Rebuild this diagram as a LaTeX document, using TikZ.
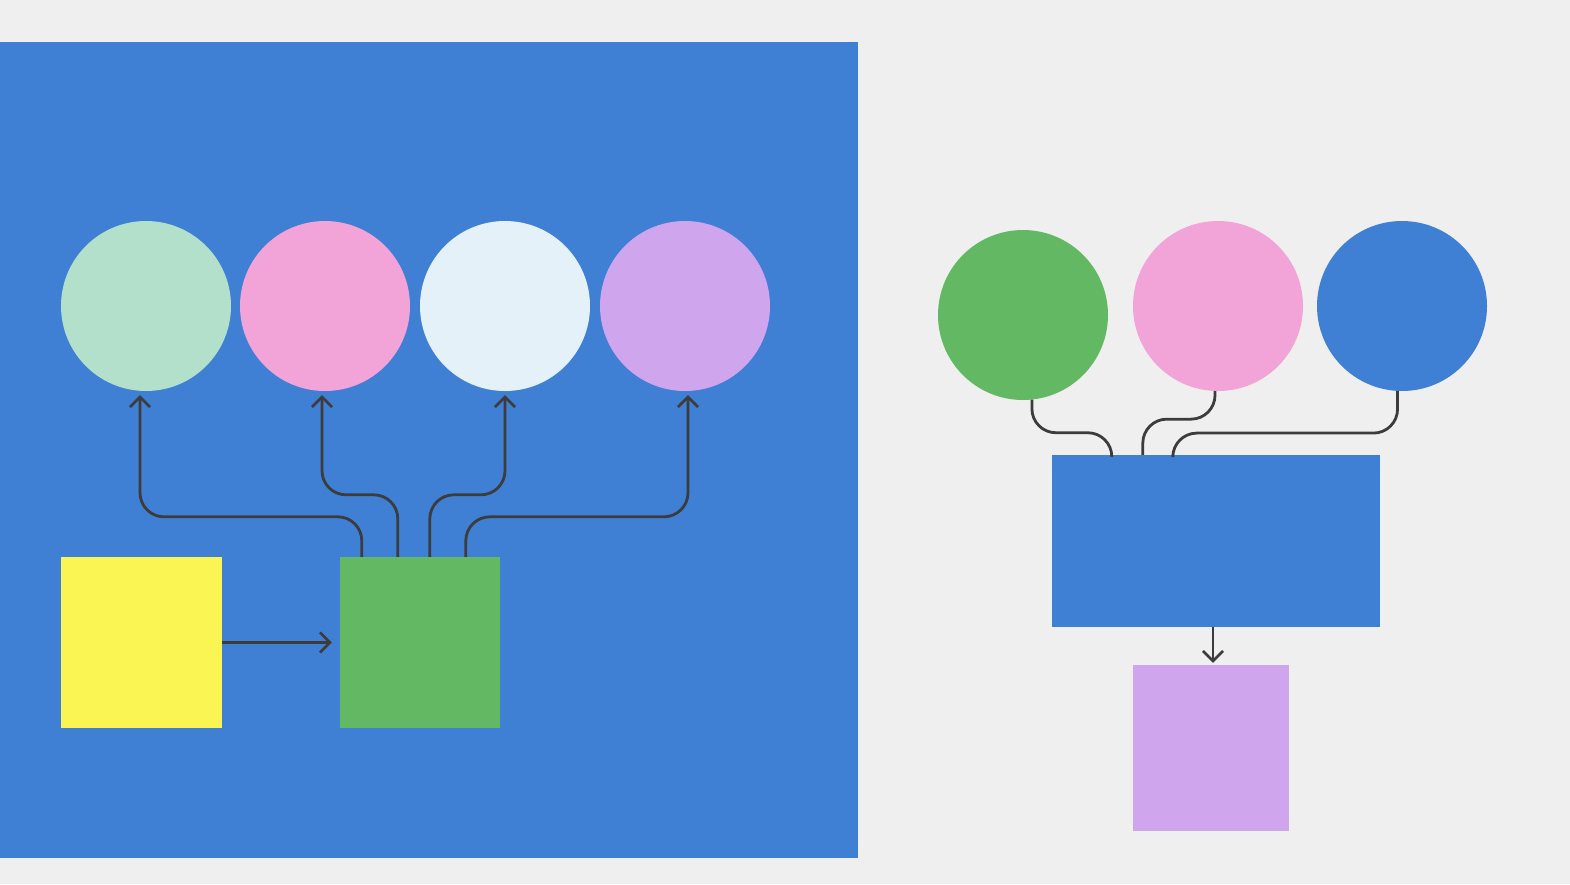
\documentclass[tikz,border=0pt]{standalone}
\usetikzlibrary{arrows.meta,calc}
\definecolor{paper}{HTML}{EFEFEF}
\definecolor{bblue}{HTML}{3F7FD4}
\definecolor{mint}{HTML}{B3E0CB}
\definecolor{ppink}{HTML}{F2A3D7}
\definecolor{pale}{HTML}{E4F1F8}
\definecolor{lav}{HTML}{CFA6EE}
\definecolor{ggreen}{HTML}{63B963}
\definecolor{yyellow}{HTML}{FAF552}
\definecolor{ink}{HTML}{3C3C3C}
\tikzset{
  ball/.style={circle, minimum size=170pt, inner sep=0pt, draw=none},
  box/.style={rectangle, inner sep=0pt, draw=none},
  conn/.style={draw=ink, line width=2.8pt, rounded corners=24pt},
  arr/.style={conn, -{Straight Barb[length=10pt,width=20pt,line width=2.6pt]}}
}
\begin{document}
\begin{tikzpicture}[x=1pt,y=-1pt]
\fill[paper] (0,0) rectangle (1570,884);
\useasboundingbox (0,0) rectangle (1570,884);
\fill[bblue] (0,42) rectangle (858,858);
% left circles
\node[ball, fill=mint]  (c1) at (146,306) {};
\node[ball, fill=ppink] (c2) at (325,306) {};
\node[ball, fill=pale]  (c3) at (505,306) {};
\node[ball, fill=lav]   (c4) at (685,306) {};
% left boxes
\node[box, fill=yyellow, minimum width=161pt, minimum height=171pt] (y) at (141.5,642.5) {};
\node[box, fill=ggreen, minimum width=160pt, minimum height=171pt] (g) at (420,642.5) {};
% left connectors
\draw[arr] ([xshift=22pt]g.north west) -- ++(0,-40) -| ([xshift=-6pt,yshift=-4pt]c1.south);
\draw[arr] ([xshift=58pt]g.north west) -- ++(0,-62) -| ([xshift=-3pt,yshift=-4pt]c2.south);
\draw[arr] ([xshift=90pt]g.north west) -- ++(0,-62) -| ([yshift=-4pt]c3.south);
\draw[arr] ([xshift=126pt]g.north west) -- ++(0,-40) -| ([xshift=3pt,yshift=-4pt]c4.south);
\draw[arr] (y.east) -- ([xshift=-8pt]g.west);
% right part
\node[ball, fill=ggreen] (c5) at (1023,315) {};
\node[ball, fill=ppink]  (c6) at (1218,306) {};
\node[ball, fill=bblue]  (c7) at (1402,306) {};
\node[box, fill=bblue, minimum width=328pt, minimum height=172pt] (b) at (1216,541) {};
\node[box, fill=lav, minimum width=156pt, minimum height=166pt] (p) at (1211,748) {};
\draw[conn] (c5.-84) -- ++(0,33) -| ([xshift=60pt]b.north west);
\draw[conn] (c6.-92) -- ++(0,28) -| ([xshift=91pt]b.north west);
\draw[conn] (c7.-93) -- ++(0,42) -| ([xshift=121pt]b.north west);
\draw[arr] ([xshift=-3pt]b.south) -- ([xshift=2pt,yshift=2pt]p.north);
\end{tikzpicture}
\end{document}
